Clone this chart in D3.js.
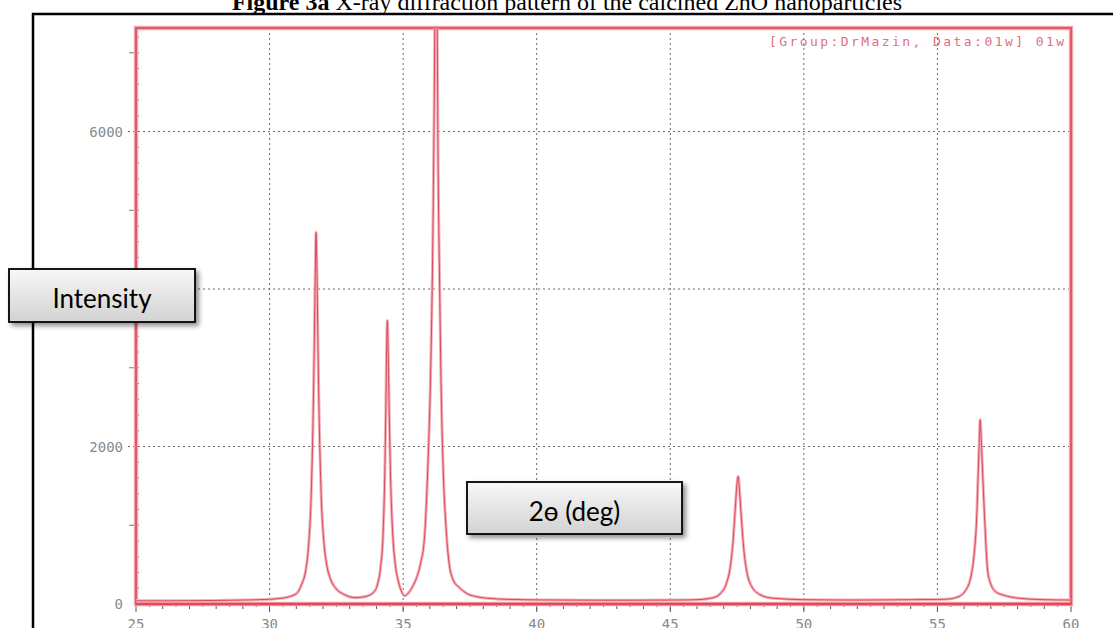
<!DOCTYPE html>
<html><head><meta charset="utf-8">
<script src="https://cdn.jsdelivr.net/npm/d3@7"></script>
<style>
html,body{margin:0;padding:0;background:#fff;overflow:hidden;}
svg{display:block;}
</style></head>
<body>
<svg id="chart" width="1113" height="628"></svg>
<script>
// ---- data ----
const twoTheta = [25,26,27,28,29,30,30.5,31.0,31.2,31.35,31.45,31.55,31.62,31.67,31.71,31.74,31.77,31.81,31.86,31.93,32.03,32.15,32.3,32.5,32.8,33.2,33.6,33.9,34.05,34.15,34.25,34.31,34.35,34.38,34.41,34.44,34.48,34.53,34.6,34.7,34.82,34.95,35.05,35.2,35.35,35.5,35.65,35.8,35.92,36.02,36.1,36.16,36.21,36.26,36.31,36.36,36.42,36.5,36.6,36.72,36.88,37.1,37.4,37.8,38.5,39.5,41,43,45,46,46.6,46.9,47.1,47.25,47.35,47.43,47.49,47.54,47.59,47.66,47.75,47.87,48.05,48.35,48.8,50,52,54,55.3,55.8,56.05,56.25,56.38,56.47,56.53,56.57,56.6,56.64,56.7,56.78,56.88,57.0,57.2,57.5,58,59,60];
const intensity = [40,40,42,45,50,60,75,130,250,420,700,1300,2200,3200,4200,4720,4300,3300,2300,1400,800,480,300,190,120,80,95,150,260,450,900,1600,2400,3200,3600,3200,2400,1600,950,520,290,150,105,140,220,330,510,850,1700,2800,4300,6200,8200,7800,5500,4200,2800,1700,1000,520,300,210,130,90,65,55,50,48,50,55,80,140,260,480,800,1200,1500,1620,1450,1100,700,400,220,120,75,55,50,55,60,95,170,340,650,1100,1700,2100,2340,2100,1600,1000,420,250,150,110,75,55,50];
const xTicks = [25,30,35,40,45,50,55,60];
const yLabelTicks = [0,2000,6000];
const yGridTicks = [2000,4000,6000];
const titleBold = "Figure 3a";
const titleRest = " X-ray diffraction pattern of the calcined ZnO nanoparticles";
const annotation = "[Group:DrMazin, Data:01w] 01w";
const yTitle = "Intensity";
const xTitle = "2\u0275 (deg)";

const svg = d3.select("#chart");
const L = 136, R = 1071, T = 28, B = 604;
const x = d3.scaleLinear().domain([25,60]).range([L,R]);
const y = d3.scaleLinear().domain([0,7315]).range([B,T]);

const defs = svg.append("defs");
const grad = defs.append("linearGradient").attr("id","boxg").attr("x1",0).attr("y1",0).attr("x2",0).attr("y2",1);
grad.append("stop").attr("offset","0%").attr("stop-color","#f8f8f8");
grad.append("stop").attr("offset","100%").attr("stop-color","#d2d2d2");
const f = defs.append("filter").attr("id","shadow").attr("x","-10%").attr("y","-20%").attr("width","130%").attr("height","160%");
f.append("feDropShadow").attr("dx",3).attr("dy",3).attr("stdDeviation",2.5).attr("flood-color","#000").attr("flood-opacity",0.45);
defs.append("clipPath").attr("id","plotclip").append("rect").attr("x",L).attr("y",T).attr("width",R-L).attr("height",B-T+4);

// title
const title = svg.append("text").attr("x",567).attr("y",10).attr("text-anchor","middle")
  .style("font-family","'Liberation Serif','Times New Roman',serif").style("font-size","24px").attr("fill","#000");
title.append("tspan").style("font-weight","bold").text(titleBold);
title.append("tspan").text(titleRest);

// black frame
svg.append("path").attr("d",`M33,628 L33,14 L1113,14`).attr("fill","none").attr("stroke","#000").attr("stroke-width",2.5);

// gridlines
const grid = svg.append("g").attr("stroke","#6a6a6a").attr("stroke-width",1).attr("stroke-dasharray","2,3").attr("fill","none");
grid.selectAll("line.v").data(xTicks.filter(d=>d>25&&d<60)).join("line")
  .attr("x1",d=>x(d)).attr("x2",d=>x(d)).attr("y1",T).attr("y2",B+8);
grid.selectAll("line.h").data(yGridTicks).join("line")
  .attr("x1",L-8).attr("x2",R).attr("y1",d=>y(d)).attr("y2",d=>y(d));

// minor ticks x (below axis)
const minorX = d3.range(25,60.01,0.5);
svg.append("g").selectAll("line").data(minorX).join("line")
  .attr("x1",d=>x(d)).attr("x2",d=>x(d)).attr("y1",B-2).attr("y2",d=> (d%5===0)?B+8:(d%1===0?B+5:B+3))
  .attr("stroke","#555").attr("stroke-width",1);
// y tick marks
const minorY = d3.range(0,7300,200);
svg.append("g").selectAll("line").data(minorY).join("line")
  .attr("x1",L-2).attr("x2",L+3).attr("y1",d=>y(d)).attr("y2",d=>y(d))
  .attr("stroke","#c03040").attr("stroke-width",1);
svg.append("g").selectAll("line").data(d3.range(1000,7300,2000)).join("line")
  .attr("x1",L-7).attr("x2",L).attr("y1",d=>y(d)).attr("y2",d=>y(d))
  .attr("stroke","#777").attr("stroke-width",1);

// plot border (red)
svg.append("rect").attr("x",L).attr("y",T).attr("width",R-L).attr("height",B-T)
  .attr("fill","none").attr("stroke","#f4a8b0").attr("stroke-width",4.5);
svg.append("rect").attr("x",L).attr("y",T).attr("width",R-L).attr("height",B-T)
  .attr("fill","none").attr("stroke","#e2576a").attr("stroke-width",2);
svg.append("line").attr("x1",L).attr("x2",R).attr("y1",B).attr("y2",B).attr("stroke","#e2485c").attr("stroke-width",2.5);

// data trace
const pts = twoTheta.map((d,i)=>[d,intensity[i]]);
const line = d3.line().x(d=>x(d[0])).y(d=>y(d[1])).curve(d3.curveMonotoneX);
svg.append("path").datum(pts).attr("clip-path","url(#plotclip)").attr("d",line)
  .attr("fill","none").attr("stroke","#f4b0b8").attr("stroke-width",3).attr("stroke-linejoin","round");
svg.append("path").datum(pts).attr("clip-path","url(#plotclip)").attr("d",line)
  .attr("fill","none").attr("stroke","#d84a5c").attr("stroke-width",1).attr("stroke-linejoin","round");

// tick labels
const lblFont = "'DejaVu Sans Mono',monospace";
svg.append("g").selectAll("text").data(xTicks).join("text")
  .attr("x",d=>x(d)).attr("y",629).attr("text-anchor","middle")
  .style("font-family",lblFont).style("font-size","14px").attr("fill","#8a8a8a").text(d=>d);
svg.append("g").selectAll("text").data(yLabelTicks).join("text")
  .attr("x",123).attr("y",d=>y(d)+5).attr("text-anchor","end")
  .style("font-family",lblFont).style("font-size","14px").attr("fill","#8a8a8a").text(d=>d);

// annotation
svg.append("text").attr("x",1064).attr("y",46).attr("text-anchor","end")
  .style("font-family",lblFont).style("font-size","13px").attr("fill","#e0707c")
  .attr("textLength",295).attr("lengthAdjust","spacing").text(annotation);

// label boxes
function box(x0,y0,w,h,label,fs){
  const g = svg.append("g");
  g.append("rect").attr("x",x0).attr("y",y0).attr("width",w).attr("height",h)
    .attr("fill","url(#boxg)").attr("stroke","#000").attr("stroke-width",1.8).attr("filter","url(#shadow)");
  g.append("text").attr("x",x0+w/2).attr("y",y0+39).attr("text-anchor","middle")
    .style("font-family","Lato,'Open Sans',sans-serif").style("font-size",fs+"px").attr("fill","#000").text(label);
}
box(9,269,186,53,yTitle,26);
box(467,482,215,52,xTitle,26);
</script>
</body></html>
